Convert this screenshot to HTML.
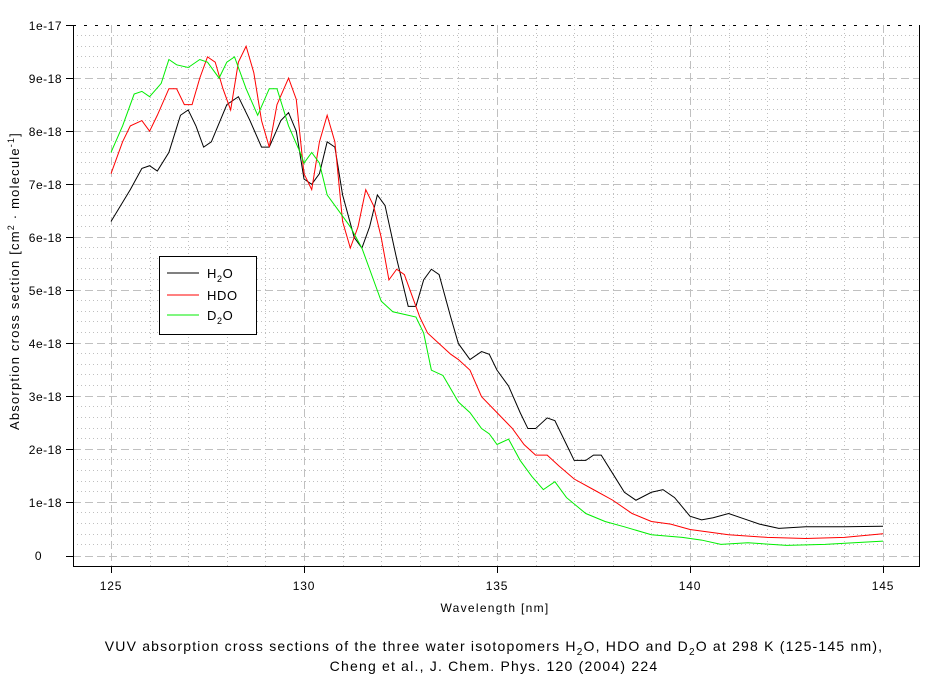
<!DOCTYPE html>
<html><head><style>body{margin:0;background:#fff}svg{display:block;font-family:"Liberation Sans",Arial,sans-serif}</style></head><body>
<svg width="944" height="682" xmlns="http://www.w3.org/2000/svg">
<rect width="944" height="682" fill="#fff"/>
<g stroke="#c0c0c0" stroke-width="1" stroke-dasharray="1,3">
<path d="M73 35.5H919M73 46.5H919M73 56.5H919M73 67.5H919M73 88.5H919M73 99.5H919M73 109.5H919M73 120.5H919M73 141.5H919M73 152.5H919M73 162.5H919M73 173.5H919M73 194.5H919M73 205.5H919M73 215.5H919M73 226.5H919M73 247.5H919M73 258.5H919M73 268.5H919M73 279.5H919M73 300.5H919M73 311.5H919M73 321.5H919M73 332.5H919M73 353.5H919M73 364.5H919M73 374.5H919M73 385.5H919M73 406.5H919M73 417.5H919M73 428.5H919M73 438.5H919M73 459.5H919M73 470.5H919M73 481.5H919M73 491.5H919M73 512.5H919M73 523.5H919M73 534.5H919M73 544.5H919"/>
<path d="M150.5 25V566M188.5 25V566M227.5 25V566M265.5 25V566M343.5 25V566M381.5 25V566M420.5 25V566M458.5 25V566M536.5 25V566M574.5 25V566M613.5 25V566M651.5 25V566M729.5 25V566M767.5 25V566M806.5 25V566M844.5 25V566"/>
</g>
<g stroke="#c0c0c0" stroke-width="1" stroke-dasharray="8,4">
<path d="M73 78.5H919M73 131.5H919M73 184.5H919M73 237.5H919M73 290.5H919M73 343.5H919M73 396.5H919M73 449.5H919M73 502.5H919M73 556.5H919"/>
<path d="M111.5 25V566M304.5 25V566M497.5 25V566M690.5 25V566M883.5 25V566"/>
</g>
<path d="M73 25.5H919" stroke="#000" stroke-dasharray="3,8"/>
<path d="M73.5 25V566.5H919.5V25" fill="none" stroke="#000"/>
<g stroke="#000"><path d="M66 25.5H73M66 78.5H73M66 131.5H73M66 184.5H73M66 237.5H73M66 290.5H73M66 343.5H73M66 396.5H73M66 449.5H73M66 502.5H73M66 556.5H73"/>
<path d="M111.5 566V573M304.5 566V573M497.5 566V573M690.5 566V573M883.5 566V573"/></g>
<g font-size="12" text-anchor="end" fill="#000" letter-spacing="0.5">
<text x="62" y="30">1e-17</text><text x="62" y="83">9e-18</text><text x="62" y="136">8e-18</text><text x="62" y="189">7e-18</text><text x="62" y="242">6e-18</text><text x="62" y="295">5e-18</text><text x="62" y="348">4e-18</text><text x="62" y="401">3e-18</text><text x="62" y="454">2e-18</text><text x="62" y="507">1e-18</text><text x="42" y="560">0</text></g>
<g font-size="12" text-anchor="middle" letter-spacing="0.8"><text x="111" y="590">125</text><text x="304" y="590">130</text><text x="497" y="590">135</text><text x="690" y="590">140</text><text x="883" y="590">145</text>
<text x="495" y="612" letter-spacing="1.3">Wavelength [nm]</text></g>
<text transform="translate(19,281) rotate(-90)" font-size="13" text-anchor="middle" letter-spacing="1.2">Absorption cross section [cm<tspan dy="-5" font-size="9">2</tspan><tspan dy="5"> · molecule</tspan><tspan dy="-5" font-size="9">-1</tspan><tspan dy="5">]</tspan></text>
<g transform="translate(111,556) scale(38.6,-53.1)" fill="none" stroke-width="1">
<polyline vector-effect="non-scaling-stroke" stroke="#000" points="0,6.3 .5,6.9 .8,7.3 1,7.35 1.2,7.25 1.5,7.6 1.8,8.3 2,8.4 2.2,8.1 2.4,7.7 2.6,7.8 3,8.5 3.3,8.65 3.6,8.2 3.9,7.7 4.1,7.7 4.4,8.2 4.6,8.35 4.8,8 5,7.1 5.2,7 5.4,7.2 5.6,7.8 5.8,7.7 6,6.8 6.3,6 6.5,5.8 6.7,6.2 6.9,6.8 7.1,6.6 7.4,5.6 7.7,4.7 7.9,4.7 8.1,5.2 8.3,5.4 8.5,5.3 8.8,4.5 9,4 9.3,3.7 9.6,3.85 9.8,3.8 10,3.5 10.3,3.2 10.6,2.7 10.8,2.4 11,2.4 11.3,2.6 11.5,2.55 11.8,2.1 12,1.8 12.3,1.8 12.5,1.9 12.7,1.9 13,1.55 13.3,1.2 13.6,1.05 14,1.2 14.3,1.25 14.6,1.1 15,.75 15.3,.68 15.6,.72 16,.8 16.4,.7 16.8,.6 17.3,.52 18,.55 19,.55 20,.56"/>
<polyline vector-effect="non-scaling-stroke" stroke="#f00" points="0,7.2 .3,7.8 .5,8.1 .8,8.2 1,8 1.2,8.3 1.5,8.8 1.7,8.8 1.9,8.5 2.1,8.5 2.3,9 2.5,9.4 2.7,9.3 2.9,8.8 3.1,8.4 3.3,9.3 3.5,9.6 3.7,9.1 3.9,8.2 4.1,7.7 4.3,8.5 4.6,9 4.8,8.6 5,7.2 5.2,6.9 5.4,7.8 5.6,8.3 5.8,7.8 6,6.3 6.2,5.8 6.4,6.2 6.6,6.9 6.8,6.6 7,6 7.2,5.2 7.4,5.4 7.6,5.3 7.8,4.9 8,4.5 8.2,4.2 8.5,4 8.8,3.8 9,3.7 9.3,3.5 9.6,3 10,2.7 10.4,2.4 10.7,2.1 11,1.9 11.3,1.9 11.6,1.7 12,1.45 12.5,1.25 13,1.05 13.5,.8 14,.65 14.5,.6 15,.5 15.5,.45 16,.4 17,.35 18,.33 19,.35 20,.42"/>
<polyline vector-effect="non-scaling-stroke" stroke="#0e0" points="0,7.6 .3,8.1 .6,8.7 .8,8.75 1,8.65 1.3,8.9 1.5,9.35 1.7,9.25 2,9.2 2.3,9.35 2.5,9.3 2.8,9 3,9.3 3.2,9.4 3.5,8.8 3.8,8.3 4.1,8.8 4.3,8.8 4.6,8.1 4.9,7.6 5,7.4 5.2,7.6 5.4,7.4 5.6,6.8 5.9,6.5 6.2,6.2 6.5,5.8 6.8,5.2 7,4.8 7.3,4.6 7.6,4.55 7.9,4.5 8.1,4.2 8.3,3.5 8.6,3.4 9,2.9 9.3,2.7 9.6,2.4 9.8,2.3 10,2.1 10.3,2.2 10.6,1.8 10.9,1.5 11.2,1.25 11.5,1.4 11.8,1.1 12.3,.8 12.8,.65 13.3,.55 14,.4 14.8,.35 15.3,.3 15.8,.22 16.5,.25 17.5,.2 18.5,.22 20,.28"/>
</g>
<rect x="159.5" y="256.5" width="97" height="78" fill="#fff" stroke="#000"/>
<path d="M167 273H199" stroke="#000"/><path d="M167 295H199" stroke="#f00"/><path d="M167 315H199" stroke="#0e0"/>
<g font-size="13" letter-spacing="0.6"><text x="207" y="278">H<tspan dy="4" font-size="9">2</tspan><tspan dy="-4">O</tspan></text><text x="207" y="300">HDO</text><text x="207" y="320">D<tspan dy="4" font-size="9">2</tspan><tspan dy="-4">O</tspan></text></g>
<g font-size="14" text-anchor="middle" letter-spacing="1.2"><text x="494" y="651">VUV absorption cross sections of the three water isotopomers H<tspan dy="4" font-size="10">2</tspan><tspan dy="-4">O, HDO and D</tspan><tspan dy="4" font-size="10">2</tspan><tspan dy="-4">O at 298 K (125-145 nm),</tspan></text>
<text x="494" y="671">Cheng et al., J. Chem. Phys. 120 (2004) 224</text></g>
</svg>
</body></html>
